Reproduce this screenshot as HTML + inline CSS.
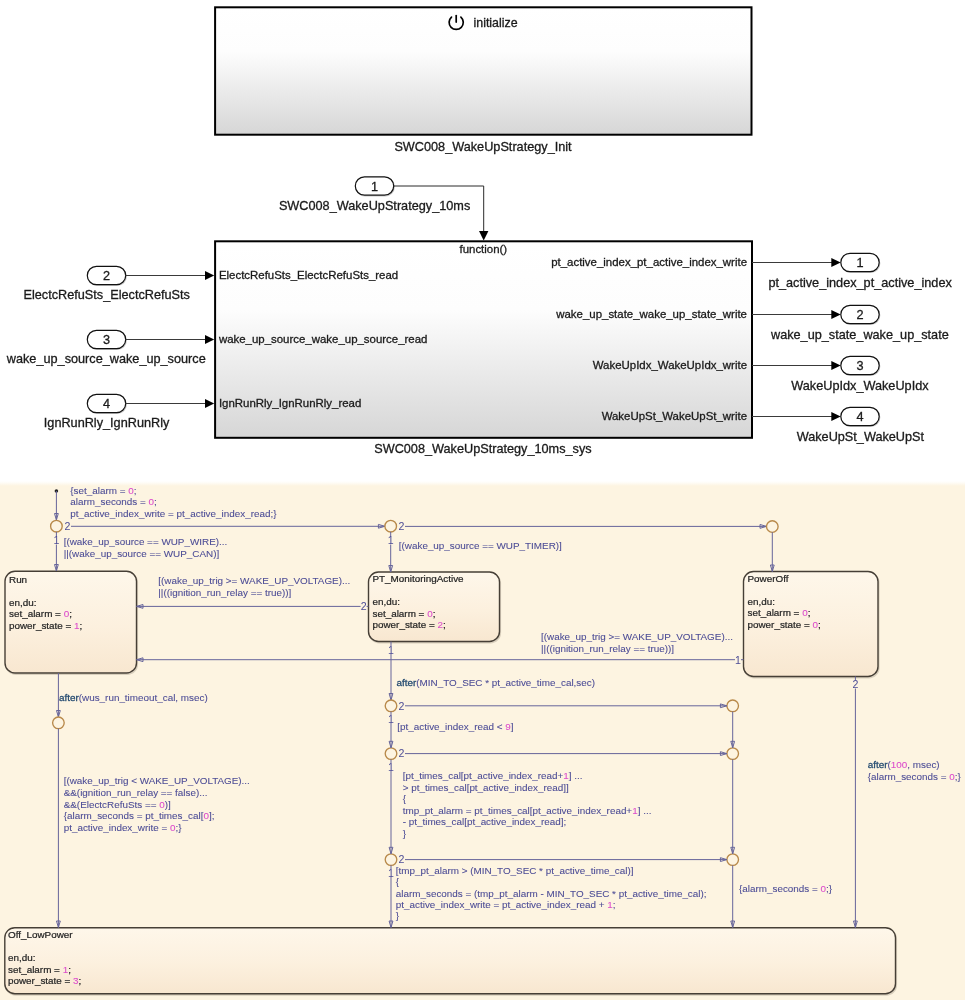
<!DOCTYPE html>
<html><head><meta charset="utf-8"><style>
html,body{margin:0;padding:0;background:#fff;width:965px;height:1000px;overflow:hidden}
svg{display:block;font-family:"Liberation Sans", sans-serif;will-change:transform}
.ct tspan{stroke-width:0.08px}
</style></head><body>
<svg width="965" height="1000" viewBox="0 0 965 1000">
<defs>
<linearGradient id="gsub" x1="0" y1="0" x2="0" y2="1"><stop offset="0" stop-color="#ffffff"/><stop offset="0.35" stop-color="#fdfdfd"/><stop offset="1" stop-color="#d6d6d6"/></linearGradient>
<linearGradient id="gstate" x1="0" y1="0" x2="0" y2="1"><stop offset="0" stop-color="#fef7ea"/><stop offset="0.55" stop-color="#fcf0de"/><stop offset="1" stop-color="#f8e7d0"/></linearGradient>
<marker id="arr" markerWidth="10" markerHeight="10" refX="10" refY="5" orient="auto" markerUnits="userSpaceOnUse"><path d="M0,0 L10,5 L0,10 z" fill="#000"/></marker>
</defs>
<rect x="215.1" y="7.3" width="536.4" height="127.4" fill="url(#gsub)" stroke="#000" stroke-width="2"/>
<path d="M451.5,17.1 A7.08,7.08 0 1 0 460.9,17.1" fill="none" stroke="#000" stroke-width="1.7" stroke-linecap="round"/>
<line x1="456.2" y1="15.5" x2="456.2" y2="22.1" stroke="#000" stroke-width="1.7" stroke-linecap="round"/>
<text x="473.5" y="26.5" font-size="12.4" fill="#1a1a1a" stroke="#1a1a1a" stroke-width="0.3" text-anchor="start" >initialize</text>
<text x="394.4" y="151" font-size="12.7" fill="#1a1a1a" stroke="#1a1a1a" stroke-width="0.3" text-anchor="start" >SWC008_WakeUpStrategy_Init</text>
<rect x="355.9" y="177.6" width="38.4" height="18.4" rx="9.2" ry="9.2" fill="none" stroke="#c8c8c8" stroke-width="1.2"/>
<rect x="355.3" y="176.8" width="38.4" height="18.4" rx="9.2" ry="9.2" fill="#fff" stroke="#111" stroke-width="1.2"/>
<text x="374.5" y="190.5" font-size="12.7" fill="#1a1a1a" stroke="#1a1a1a" stroke-width="0.3" text-anchor="middle" >1</text>
<text x="278.9" y="210.2" font-size="12.7" fill="#1a1a1a" stroke="#1a1a1a" stroke-width="0.3" text-anchor="start" >SWC008_WakeUpStrategy_10ms</text>
<polyline points="393.5,186 483.7,186 483.7,232" fill="none" stroke="#2a2a2a" stroke-width="1"/>
<path d="M479,231 L488.4,231 L483.7,240.5 z" fill="#000"/>
<rect x="215.1" y="241.3" width="536.9" height="196.5" fill="url(#gsub)" stroke="#000" stroke-width="2"/>
<text x="459.5" y="253.3" font-size="11.45" fill="#1a1a1a" stroke="#1a1a1a" stroke-width="0.3" text-anchor="start" >function()</text>
<rect x="87.9" y="267.1" width="38.4" height="18.4" rx="9.2" ry="9.2" fill="none" stroke="#c8c8c8" stroke-width="1.2"/>
<rect x="87.3" y="266.3" width="38.4" height="18.4" rx="9.2" ry="9.2" fill="#fff" stroke="#111" stroke-width="1.2"/>
<text x="106.5" y="280.0" font-size="12.7" fill="#1a1a1a" stroke="#1a1a1a" stroke-width="0.3" text-anchor="middle" >2</text>
<text x="23.5" y="299.3" font-size="12.7" fill="#1a1a1a" stroke="#1a1a1a" stroke-width="0.3" text-anchor="start" >ElectcRefuSts_ElectcRefuSts</text>
<line x1="125.5" y1="275.5" x2="206" y2="275.5" stroke="#3a3a3a" stroke-width="1"/>
<path d="M205,271.0 L214.2,275.5 L205,280.0 z" fill="#000"/>
<text x="218.9" y="278.8" font-size="11.45" fill="#1a1a1a" stroke="#1a1a1a" stroke-width="0.3" text-anchor="start" >ElectcRefuSts_ElectcRefuSts_read</text>
<rect x="87.9" y="331.1" width="38.4" height="18.4" rx="9.2" ry="9.2" fill="none" stroke="#c8c8c8" stroke-width="1.2"/>
<rect x="87.3" y="330.3" width="38.4" height="18.4" rx="9.2" ry="9.2" fill="#fff" stroke="#111" stroke-width="1.2"/>
<text x="106.5" y="344.0" font-size="12.7" fill="#1a1a1a" stroke="#1a1a1a" stroke-width="0.3" text-anchor="middle" >3</text>
<text x="6.8" y="363.3" font-size="12.7" fill="#1a1a1a" stroke="#1a1a1a" stroke-width="0.3" text-anchor="start" >wake_up_source_wake_up_source</text>
<line x1="125.5" y1="339.5" x2="206" y2="339.5" stroke="#3a3a3a" stroke-width="1"/>
<path d="M205,335.0 L214.2,339.5 L205,344.0 z" fill="#000"/>
<text x="218.9" y="342.8" font-size="11.45" fill="#1a1a1a" stroke="#1a1a1a" stroke-width="0.3" text-anchor="start" >wake_up_source_wake_up_source_read</text>
<rect x="87.9" y="395.1" width="38.4" height="18.4" rx="9.2" ry="9.2" fill="none" stroke="#c8c8c8" stroke-width="1.2"/>
<rect x="87.3" y="394.3" width="38.4" height="18.4" rx="9.2" ry="9.2" fill="#fff" stroke="#111" stroke-width="1.2"/>
<text x="106.5" y="408.0" font-size="12.7" fill="#1a1a1a" stroke="#1a1a1a" stroke-width="0.3" text-anchor="middle" >4</text>
<text x="43.8" y="427.3" font-size="12.7" fill="#1a1a1a" stroke="#1a1a1a" stroke-width="0.3" text-anchor="start" >IgnRunRly_IgnRunRly</text>
<line x1="125.5" y1="403.5" x2="206" y2="403.5" stroke="#3a3a3a" stroke-width="1"/>
<path d="M205,399.0 L214.2,403.5 L205,408.0 z" fill="#000"/>
<text x="218.9" y="406.8" font-size="11.45" fill="#1a1a1a" stroke="#1a1a1a" stroke-width="0.3" text-anchor="start" >IgnRunRly_IgnRunRly_read</text>
<rect x="841.4" y="254.1" width="38.4" height="18.4" rx="9.2" ry="9.2" fill="none" stroke="#c8c8c8" stroke-width="1.2"/>
<rect x="840.8" y="253.3" width="38.4" height="18.4" rx="9.2" ry="9.2" fill="#fff" stroke="#111" stroke-width="1.2"/>
<text x="860" y="267.0" font-size="12.7" fill="#1a1a1a" stroke="#1a1a1a" stroke-width="0.3" text-anchor="middle" >1</text>
<text x="768.4" y="287.0" font-size="12.7" fill="#1a1a1a" stroke="#1a1a1a" stroke-width="0.3" text-anchor="start" >pt_active_index_pt_active_index</text>
<line x1="752" y1="262.5" x2="832" y2="262.5" stroke="#3a3a3a" stroke-width="1"/>
<path d="M831.3,258.0 L840.7,262.5 L831.3,267.0 z" fill="#000"/>
<text x="747" y="266.1" font-size="11.45" fill="#1a1a1a" stroke="#1a1a1a" stroke-width="0.3" text-anchor="end" >pt_active_index_pt_active_index_write</text>
<rect x="841.4" y="306.1" width="38.4" height="18.4" rx="9.2" ry="9.2" fill="none" stroke="#c8c8c8" stroke-width="1.2"/>
<rect x="840.8" y="305.3" width="38.4" height="18.4" rx="9.2" ry="9.2" fill="#fff" stroke="#111" stroke-width="1.2"/>
<text x="860" y="319.0" font-size="12.7" fill="#1a1a1a" stroke="#1a1a1a" stroke-width="0.3" text-anchor="middle" >2</text>
<text x="771" y="339.0" font-size="12.7" fill="#1a1a1a" stroke="#1a1a1a" stroke-width="0.3" text-anchor="start" >wake_up_state_wake_up_state</text>
<line x1="752" y1="314.5" x2="832" y2="314.5" stroke="#3a3a3a" stroke-width="1"/>
<path d="M831.3,310.0 L840.7,314.5 L831.3,319.0 z" fill="#000"/>
<text x="747" y="318.1" font-size="11.45" fill="#1a1a1a" stroke="#1a1a1a" stroke-width="0.3" text-anchor="end" >wake_up_state_wake_up_state_write</text>
<rect x="841.4" y="357.1" width="38.4" height="18.4" rx="9.2" ry="9.2" fill="none" stroke="#c8c8c8" stroke-width="1.2"/>
<rect x="840.8" y="356.3" width="38.4" height="18.4" rx="9.2" ry="9.2" fill="#fff" stroke="#111" stroke-width="1.2"/>
<text x="860" y="370.0" font-size="12.7" fill="#1a1a1a" stroke="#1a1a1a" stroke-width="0.3" text-anchor="middle" >3</text>
<text x="791.3" y="390.0" font-size="12.7" fill="#1a1a1a" stroke="#1a1a1a" stroke-width="0.3" text-anchor="start" >WakeUpIdx_WakeUpIdx</text>
<line x1="752" y1="365.5" x2="832" y2="365.5" stroke="#3a3a3a" stroke-width="1"/>
<path d="M831.3,361.0 L840.7,365.5 L831.3,370.0 z" fill="#000"/>
<text x="747" y="369.1" font-size="11.45" fill="#1a1a1a" stroke="#1a1a1a" stroke-width="0.3" text-anchor="end" >WakeUpIdx_WakeUpIdx_write</text>
<rect x="841.4" y="408.1" width="38.4" height="18.4" rx="9.2" ry="9.2" fill="none" stroke="#c8c8c8" stroke-width="1.2"/>
<rect x="840.8" y="407.3" width="38.4" height="18.4" rx="9.2" ry="9.2" fill="#fff" stroke="#111" stroke-width="1.2"/>
<text x="860" y="421.0" font-size="12.7" fill="#1a1a1a" stroke="#1a1a1a" stroke-width="0.3" text-anchor="middle" >4</text>
<text x="796.7" y="441.0" font-size="12.7" fill="#1a1a1a" stroke="#1a1a1a" stroke-width="0.3" text-anchor="start" >WakeUpSt_WakeUpSt</text>
<line x1="752" y1="416.5" x2="832" y2="416.5" stroke="#3a3a3a" stroke-width="1"/>
<path d="M831.3,412.0 L840.7,416.5 L831.3,421.0 z" fill="#000"/>
<text x="747" y="420.1" font-size="11.45" fill="#1a1a1a" stroke="#1a1a1a" stroke-width="0.3" text-anchor="end" >WakeUpSt_WakeUpSt_write</text>
<text x="374.2" y="453.3" font-size="12.7" fill="#1a1a1a" stroke="#1a1a1a" stroke-width="0.3" text-anchor="start" >SWC008_WakeUpStrategy_10ms_sys</text>
<linearGradient id="gbg" x1="0" y1="0" x2="0" y2="1" gradientUnits="userSpaceOnUse" gradientTransform="translate(0,481) scale(1,7)"><stop offset="0" stop-color="#ffffff"/><stop offset="0.25" stop-color="#fefcf6"/><stop offset="0.7" stop-color="#fdf4e1"/><stop offset="1" stop-color="#fdf4e1"/></linearGradient><rect x="0" y="480" width="965" height="520" fill="#fdf4e1"/><rect x="0" y="480" width="965" height="1" fill="#fff"/><rect x="0" y="481" width="965" height="7" fill="url(#gbg)"/>
<rect x="5.8" y="572.5" width="131.5" height="101.70000000000005" rx="10" ry="10" fill="none" stroke="#d9cfbd" stroke-width="1.6"/>
<rect x="5" y="571.3" width="131.5" height="101.70000000000005" rx="10" ry="10" fill="url(#gstate)" stroke="#463f36" stroke-width="1.4"/>
<text x="9" y="582.5999999999999" font-size="9.9" fill="#4c4c96" class="ct"><tspan fill="#222" stroke="#222" style="stroke-width:0.22px">Run</tspan></text>
<text x="9" y="605.5999999999999" font-size="9.9" fill="#4c4c96" class="ct"><tspan fill="#262626" stroke="#262626" style="stroke-width:0.22px">en,du:</tspan></text>
<text x="9" y="617.0999999999999" font-size="9.9" fill="#4c4c96" class="ct"><tspan fill="#262626" stroke="#262626" style="stroke-width:0.22px">set_alarm = </tspan><tspan fill="#dc4ccc" stroke="#dc4ccc">0</tspan><tspan fill="#262626" stroke="#262626" style="stroke-width:0.22px">;</tspan></text>
<text x="9" y="628.5999999999999" font-size="9.9" fill="#4c4c96" class="ct"><tspan fill="#262626" stroke="#262626" style="stroke-width:0.22px">power_state = </tspan><tspan fill="#dc4ccc" stroke="#dc4ccc">1</tspan><tspan fill="#262626" stroke="#262626" style="stroke-width:0.22px">;</tspan></text>
<rect x="369.3" y="573.2" width="131.0" height="69.5" rx="10" ry="10" fill="none" stroke="#d9cfbd" stroke-width="1.6"/>
<rect x="368.5" y="572" width="131.0" height="69.5" rx="10" ry="10" fill="url(#gstate)" stroke="#463f36" stroke-width="1.4"/>
<text x="372.5" y="582.4" font-size="9.9" fill="#4c4c96" class="ct"><tspan fill="#222" stroke="#222" style="stroke-width:0.22px">PT_MonitoringActive</tspan></text>
<text x="372.5" y="605.4" font-size="9.9" fill="#4c4c96" class="ct"><tspan fill="#262626" stroke="#262626" style="stroke-width:0.22px">en,du:</tspan></text>
<text x="372.5" y="616.9" font-size="9.9" fill="#4c4c96" class="ct"><tspan fill="#262626" stroke="#262626" style="stroke-width:0.22px">set_alarm = </tspan><tspan fill="#dc4ccc" stroke="#dc4ccc">0</tspan><tspan fill="#262626" stroke="#262626" style="stroke-width:0.22px">;</tspan></text>
<text x="372.5" y="628.4" font-size="9.9" fill="#4c4c96" class="ct"><tspan fill="#262626" stroke="#262626" style="stroke-width:0.22px">power_state = </tspan><tspan fill="#dc4ccc" stroke="#dc4ccc">2</tspan><tspan fill="#262626" stroke="#262626" style="stroke-width:0.22px">;</tspan></text>
<rect x="744.3" y="572.7" width="134.5" height="105.0" rx="10" ry="10" fill="none" stroke="#d9cfbd" stroke-width="1.6"/>
<rect x="743.5" y="571.5" width="134.5" height="105.0" rx="10" ry="10" fill="url(#gstate)" stroke="#463f36" stroke-width="1.4"/>
<text x="747.5" y="581.9" font-size="9.9" fill="#4c4c96" class="ct"><tspan fill="#222" stroke="#222" style="stroke-width:0.22px">PowerOff</tspan></text>
<text x="747.5" y="604.9" font-size="9.9" fill="#4c4c96" class="ct"><tspan fill="#262626" stroke="#262626" style="stroke-width:0.22px">en,du:</tspan></text>
<text x="747.5" y="616.4" font-size="9.9" fill="#4c4c96" class="ct"><tspan fill="#262626" stroke="#262626" style="stroke-width:0.22px">set_alarm = </tspan><tspan fill="#dc4ccc" stroke="#dc4ccc">0</tspan><tspan fill="#262626" stroke="#262626" style="stroke-width:0.22px">;</tspan></text>
<text x="747.5" y="627.9" font-size="9.9" fill="#4c4c96" class="ct"><tspan fill="#262626" stroke="#262626" style="stroke-width:0.22px">power_state = </tspan><tspan fill="#dc4ccc" stroke="#dc4ccc">0</tspan><tspan fill="#262626" stroke="#262626" style="stroke-width:0.22px">;</tspan></text>
<rect x="5.6" y="928.9000000000001" width="890.7" height="66.0" rx="10" ry="10" fill="none" stroke="#d9cfbd" stroke-width="1.6"/>
<rect x="4.8" y="927.7" width="890.7" height="66.0" rx="10" ry="10" fill="url(#gstate)" stroke="#463f36" stroke-width="1.4"/>
<text x="8.0" y="938.1" font-size="9.9" fill="#4c4c96" class="ct"><tspan fill="#222" stroke="#222" style="stroke-width:0.22px">Off_LowPower</tspan></text>
<text x="8.0" y="961.1" font-size="9.9" fill="#4c4c96" class="ct"><tspan fill="#262626" stroke="#262626" style="stroke-width:0.22px">en,du:</tspan></text>
<text x="8.0" y="972.6" font-size="9.9" fill="#4c4c96" class="ct"><tspan fill="#262626" stroke="#262626" style="stroke-width:0.22px">set_alarm = </tspan><tspan fill="#dc4ccc" stroke="#dc4ccc">1</tspan><tspan fill="#262626" stroke="#262626" style="stroke-width:0.22px">;</tspan></text>
<text x="8.0" y="984.1" font-size="9.9" fill="#4c4c96" class="ct"><tspan fill="#262626" stroke="#262626" style="stroke-width:0.22px">power_state = </tspan><tspan fill="#dc4ccc" stroke="#dc4ccc">3</tspan><tspan fill="#262626" stroke="#262626" style="stroke-width:0.22px">;</tspan></text>
<circle cx="56.4" cy="491" r="1.8" fill="#222"/>
<line x1="56.4" y1="491" x2="56.4" y2="520" stroke="#66649a" stroke-width="1"/>
<path d="M54.5,513.5 L58.3,513.5 L56.4,520 z" fill="none" stroke="#66649a" stroke-width="1"/>
<circle cx="56.4" cy="526.2" r="5.8" fill="none" stroke="#b8894a" stroke-width="1.35"/>
<text x="70.3" y="494.0" font-size="9.9" fill="#4c4c96" class="ct"><tspan fill="#4c4c96" stroke="#4c4c96">{set_alarm = </tspan><tspan fill="#dc4ccc" stroke="#dc4ccc">0</tspan><tspan fill="#4c4c96" stroke="#4c4c96">;</tspan></text>
<text x="70.3" y="505.4" font-size="9.9" fill="#4c4c96" class="ct"><tspan fill="#4c4c96" stroke="#4c4c96">alarm_seconds = </tspan><tspan fill="#dc4ccc" stroke="#dc4ccc">0</tspan><tspan fill="#4c4c96" stroke="#4c4c96">;</tspan></text>
<text x="70.3" y="516.8" font-size="9.9" fill="#4c4c96" class="ct"><tspan fill="#4c4c96" stroke="#4c4c96">pt_active_index_write = pt_active_index_read;}</tspan></text>
<line x1="71" y1="526.3" x2="384.9" y2="526.3" stroke="#66649a" stroke-width="1"/>
<path d="M378.4,524.4 L378.4,528.1999999999999 L384.9,526.3 z" fill="none" stroke="#66649a" stroke-width="1"/>
<rect x="64.5" y="522.3" width="6" height="8" fill="#fdf4e1"/>
<text x="67.5" y="530.0999999999999" font-size="10.6" fill="#4c4c96" text-anchor="middle">2</text>
<circle cx="390.7" cy="526.2" r="5.8" fill="none" stroke="#b8894a" stroke-width="1.35"/>
<line x1="405" y1="526.4" x2="766.5" y2="526.4" stroke="#66649a" stroke-width="1"/>
<path d="M760.0,524.5 L760.0,528.3 L766.5,526.4 z" fill="none" stroke="#66649a" stroke-width="1"/>
<rect x="398.5" y="522.4" width="6" height="8" fill="#fdf4e1"/>
<text x="401.5" y="530.1999999999999" font-size="10.6" fill="#4c4c96" text-anchor="middle">2</text>
<circle cx="772.3" cy="526.5" r="5.8" fill="none" stroke="#b8894a" stroke-width="1.35"/>
<line x1="772.3" y1="532.3" x2="772.3" y2="571.5" stroke="#66649a" stroke-width="1"/>
<path d="M770.4,565.0 L774.1999999999999,565.0 L772.3,571.5 z" fill="none" stroke="#66649a" stroke-width="1"/>
<line x1="56.4" y1="531.8" x2="56.4" y2="571" stroke="#66649a" stroke-width="1"/>
<path d="M54.5,564.5 L58.3,564.5 L56.4,571 z" fill="none" stroke="#66649a" stroke-width="1"/>
<rect x="53.4" y="536.5" width="6" height="8" fill="#fdf4e1"/>
<text x="56.4" y="544.3" font-size="10.6" fill="#4c4c96" text-anchor="middle">1</text>
<text x="63.7" y="545.3" font-size="9.9" fill="#4c4c96" class="ct"><tspan fill="#4c4c96" stroke="#4c4c96">[(wake_up_source == WUP_WIRE)...</tspan></text>
<text x="63.7" y="556.9" font-size="9.9" fill="#4c4c96" class="ct"><tspan fill="#4c4c96" stroke="#4c4c96">||(wake_up_source == WUP_CAN)]</tspan></text>
<line x1="390.7" y1="531.8" x2="390.7" y2="572" stroke="#66649a" stroke-width="1"/>
<path d="M388.8,565.5 L392.59999999999997,565.5 L390.7,572 z" fill="none" stroke="#66649a" stroke-width="1"/>
<rect x="387.7" y="536.5" width="6" height="8" fill="#fdf4e1"/>
<text x="390.7" y="544.3" font-size="10.6" fill="#4c4c96" text-anchor="middle">1</text>
<text x="398.8" y="548.7" font-size="9.9" fill="#4c4c96" class="ct"><tspan fill="#4c4c96" stroke="#4c4c96">[(wake_up_source == WUP_TIMER)]</tspan></text>
<line x1="368.5" y1="606.4" x2="136.5" y2="606.4" stroke="#66649a" stroke-width="1"/>
<path d="M143.0,604.5 L143.0,608.3 L136.5,606.4 z" fill="none" stroke="#66649a" stroke-width="1"/>
<rect x="360.6" y="602.4" width="6" height="8" fill="#fdf4e1"/>
<text x="363.6" y="610.1999999999999" font-size="10.6" fill="#4c4c96" text-anchor="middle">2</text>
<text x="158.3" y="584.0" font-size="9.9" fill="#4c4c96" class="ct"><tspan fill="#4c4c96" stroke="#4c4c96">[(wake_up_trig &gt;= WAKE_UP_VOLTAGE)...</tspan></text>
<text x="158.3" y="596.0" font-size="9.9" fill="#4c4c96" class="ct"><tspan fill="#4c4c96" stroke="#4c4c96">||((ignition_run_relay == true))]</tspan></text>
<line x1="743.5" y1="659.7" x2="136.5" y2="659.7" stroke="#66649a" stroke-width="1"/>
<path d="M143.0,657.8000000000001 L143.0,661.6 L136.5,659.7 z" fill="none" stroke="#66649a" stroke-width="1"/>
<rect x="735" y="655.7" width="6" height="8" fill="#fdf4e1"/>
<text x="738" y="663.5" font-size="10.6" fill="#4c4c96" text-anchor="middle">1</text>
<text x="541" y="639.6" font-size="9.9" fill="#4c4c96" class="ct"><tspan fill="#4c4c96" stroke="#4c4c96">[(wake_up_trig &gt;= WAKE_UP_VOLTAGE)...</tspan></text>
<text x="541" y="651.6" font-size="9.9" fill="#4c4c96" class="ct"><tspan fill="#4c4c96" stroke="#4c4c96">||((ignition_run_relay == true))]</tspan></text>
<line x1="58.4" y1="673" x2="58.4" y2="717" stroke="#66649a" stroke-width="1"/>
<path d="M56.5,710.5 L60.3,710.5 L58.4,717 z" fill="none" stroke="#66649a" stroke-width="1"/>
<text x="59" y="701.0" font-size="9.9" fill="#4c4c96" class="ct"><tspan fill="#234a70" stroke="#234a70" style="stroke-width:0.28px">after</tspan><tspan fill="#4c4c96" stroke="#4c4c96">(wus_run_timeout_cal, msec)</tspan></text>
<circle cx="58.4" cy="722.8" r="5.8" fill="none" stroke="#b8894a" stroke-width="1.35"/>
<line x1="58.4" y1="728.6" x2="58.4" y2="927.5" stroke="#66649a" stroke-width="1"/>
<path d="M56.5,921.0 L60.3,921.0 L58.4,927.5 z" fill="none" stroke="#66649a" stroke-width="1"/>
<text x="63.7" y="784.3" font-size="9.9" fill="#4c4c96" class="ct"><tspan fill="#4c4c96" stroke="#4c4c96">[(wake_up_trig &lt; WAKE_UP_VOLTAGE)...</tspan></text>
<text x="63.7" y="795.9499999999999" font-size="9.9" fill="#4c4c96" class="ct"><tspan fill="#4c4c96" stroke="#4c4c96">&amp;&amp;(ignition_run_relay == false)...</tspan></text>
<text x="63.7" y="807.5999999999999" font-size="9.9" fill="#4c4c96" class="ct"><tspan fill="#4c4c96" stroke="#4c4c96">&amp;&amp;(ElectcRefuSts == </tspan><tspan fill="#dc4ccc" stroke="#dc4ccc">0</tspan><tspan fill="#4c4c96" stroke="#4c4c96">)]</tspan></text>
<text x="63.7" y="819.25" font-size="9.9" fill="#4c4c96" class="ct"><tspan fill="#4c4c96" stroke="#4c4c96">{alarm_seconds = pt_times_cal[</tspan><tspan fill="#dc4ccc" stroke="#dc4ccc">0</tspan><tspan fill="#4c4c96" stroke="#4c4c96">];</tspan></text>
<text x="63.7" y="830.9" font-size="9.9" fill="#4c4c96" class="ct"><tspan fill="#4c4c96" stroke="#4c4c96">pt_active_index_write = </tspan><tspan fill="#dc4ccc" stroke="#dc4ccc">0</tspan><tspan fill="#4c4c96" stroke="#4c4c96">;}</tspan></text>
<line x1="391" y1="641.5" x2="391" y2="700" stroke="#66649a" stroke-width="1"/>
<path d="M389.1,693.5 L392.9,693.5 L391,700 z" fill="none" stroke="#66649a" stroke-width="1"/>
<rect x="388" y="646" width="6" height="8" fill="#fdf4e1"/>
<text x="391" y="653.8" font-size="10.6" fill="#4c4c96" text-anchor="middle">1</text>
<text x="396.5" y="685.7" font-size="9.9" fill="#4c4c96" class="ct"><tspan fill="#234a70" stroke="#234a70" style="stroke-width:0.28px">after</tspan><tspan fill="#4c4c96" stroke="#4c4c96">(MIN_TO_SEC * pt_active_time_cal,sec)</tspan></text>
<circle cx="391" cy="705.8" r="5.8" fill="none" stroke="#b8894a" stroke-width="1.35"/>
<circle cx="732.7" cy="705.8" r="5.8" fill="none" stroke="#b8894a" stroke-width="1.35"/>
<line x1="405" y1="705.8" x2="726.9" y2="705.8" stroke="#66649a" stroke-width="1"/>
<path d="M720.4,703.9 L720.4,707.6999999999999 L726.9,705.8 z" fill="none" stroke="#66649a" stroke-width="1"/>
<rect x="398.4" y="701.8" width="6" height="8" fill="#fdf4e1"/>
<text x="401.4" y="709.5999999999999" font-size="10.6" fill="#4c4c96" text-anchor="middle">2</text>
<circle cx="391" cy="753.6" r="5.8" fill="none" stroke="#b8894a" stroke-width="1.35"/>
<circle cx="732.7" cy="753.6" r="5.8" fill="none" stroke="#b8894a" stroke-width="1.35"/>
<line x1="405" y1="753.6" x2="726.9" y2="753.6" stroke="#66649a" stroke-width="1"/>
<path d="M720.4,751.7 L720.4,755.5 L726.9,753.6 z" fill="none" stroke="#66649a" stroke-width="1"/>
<rect x="398.4" y="749.6" width="6" height="8" fill="#fdf4e1"/>
<text x="401.4" y="757.4" font-size="10.6" fill="#4c4c96" text-anchor="middle">2</text>
<circle cx="391" cy="859.6" r="5.8" fill="none" stroke="#b8894a" stroke-width="1.35"/>
<circle cx="732.7" cy="859.6" r="5.8" fill="none" stroke="#b8894a" stroke-width="1.35"/>
<line x1="405" y1="859.6" x2="726.9" y2="859.6" stroke="#66649a" stroke-width="1"/>
<path d="M720.4,857.7 L720.4,861.5 L726.9,859.6 z" fill="none" stroke="#66649a" stroke-width="1"/>
<rect x="398.4" y="855.6" width="6" height="8" fill="#fdf4e1"/>
<text x="401.4" y="863.4" font-size="10.6" fill="#4c4c96" text-anchor="middle">2</text>
<line x1="391" y1="711.6" x2="391" y2="747.8" stroke="#66649a" stroke-width="1"/>
<path d="M389.1,741.3 L392.9,741.3 L391,747.8 z" fill="none" stroke="#66649a" stroke-width="1"/>
<rect x="388" y="715" width="6" height="8" fill="#fdf4e1"/>
<text x="391" y="722.8" font-size="10.6" fill="#4c4c96" text-anchor="middle">1</text>
<text x="397.3" y="729.6" font-size="9.9" fill="#4c4c96" class="ct"><tspan fill="#4c4c96" stroke="#4c4c96">[pt_active_index_read &lt; </tspan><tspan fill="#dc4ccc" stroke="#dc4ccc">9</tspan><tspan fill="#4c4c96" stroke="#4c4c96">]</tspan></text>
<line x1="391" y1="759.4" x2="391" y2="853.8" stroke="#66649a" stroke-width="1"/>
<path d="M389.1,847.3 L392.9,847.3 L391,853.8 z" fill="none" stroke="#66649a" stroke-width="1"/>
<rect x="388" y="763" width="6" height="8" fill="#fdf4e1"/>
<text x="391" y="770.8" font-size="10.6" fill="#4c4c96" text-anchor="middle">1</text>
<text x="402.7" y="779.0" font-size="9.9" fill="#4c4c96" class="ct"><tspan fill="#4c4c96" stroke="#4c4c96">[pt_times_cal[pt_active_index_read+</tspan><tspan fill="#dc4ccc" stroke="#dc4ccc">1</tspan><tspan fill="#4c4c96" stroke="#4c4c96">] ...</tspan></text>
<text x="402.7" y="790.6" font-size="9.9" fill="#4c4c96" class="ct"><tspan fill="#4c4c96" stroke="#4c4c96">&gt; pt_times_cal[pt_active_index_read]]</tspan></text>
<text x="402.7" y="802.2" font-size="9.9" fill="#4c4c96" class="ct"><tspan fill="#4c4c96" stroke="#4c4c96">{</tspan></text>
<text x="402.7" y="813.8" font-size="9.9" fill="#4c4c96" class="ct"><tspan fill="#4c4c96" stroke="#4c4c96">tmp_pt_alarm = pt_times_cal[pt_active_index_read+</tspan><tspan fill="#dc4ccc" stroke="#dc4ccc">1</tspan><tspan fill="#4c4c96" stroke="#4c4c96">] ...</tspan></text>
<text x="402.7" y="825.4" font-size="9.9" fill="#4c4c96" class="ct"><tspan fill="#4c4c96" stroke="#4c4c96">- pt_times_cal[pt_active_index_read];</tspan></text>
<text x="402.7" y="837.0" font-size="9.9" fill="#4c4c96" class="ct"><tspan fill="#4c4c96" stroke="#4c4c96">}</tspan></text>
<line x1="391" y1="865.4" x2="391" y2="927.5" stroke="#66649a" stroke-width="1"/>
<path d="M389.1,921.0 L392.9,921.0 L391,927.5 z" fill="none" stroke="#66649a" stroke-width="1"/>
<rect x="388" y="869" width="6" height="8" fill="#fdf4e1"/>
<text x="391" y="876.8" font-size="10.6" fill="#4c4c96" text-anchor="middle">1</text>
<text x="395.8" y="873.9" font-size="9.9" fill="#4c4c96" class="ct"><tspan fill="#4c4c96" stroke="#4c4c96">[tmp_pt_alarm &gt; (MIN_TO_SEC * pt_active_time_cal)]</tspan></text>
<text x="395.8" y="885.1999999999999" font-size="9.9" fill="#4c4c96" class="ct"><tspan fill="#4c4c96" stroke="#4c4c96">{</tspan></text>
<text x="395.8" y="896.5" font-size="9.9" fill="#4c4c96" class="ct"><tspan fill="#4c4c96" stroke="#4c4c96">alarm_seconds = (tmp_pt_alarm - MIN_TO_SEC * pt_active_time_cal);</tspan></text>
<text x="395.8" y="907.8" font-size="9.9" fill="#4c4c96" class="ct"><tspan fill="#4c4c96" stroke="#4c4c96">pt_active_index_write = pt_active_index_read + </tspan><tspan fill="#dc4ccc" stroke="#dc4ccc">1</tspan><tspan fill="#4c4c96" stroke="#4c4c96">;</tspan></text>
<text x="395.8" y="919.1" font-size="9.9" fill="#4c4c96" class="ct"><tspan fill="#4c4c96" stroke="#4c4c96">}</tspan></text>
<line x1="732.7" y1="711.6" x2="732.7" y2="747.8" stroke="#66649a" stroke-width="1"/>
<path d="M730.8000000000001,741.3 L734.6,741.3 L732.7,747.8 z" fill="none" stroke="#66649a" stroke-width="1"/>
<line x1="732.7" y1="759.4" x2="732.7" y2="853.8" stroke="#66649a" stroke-width="1"/>
<path d="M730.8000000000001,847.3 L734.6,847.3 L732.7,853.8 z" fill="none" stroke="#66649a" stroke-width="1"/>
<line x1="732.7" y1="865.4" x2="732.7" y2="927.5" stroke="#66649a" stroke-width="1"/>
<path d="M730.8000000000001,921.0 L734.6,921.0 L732.7,927.5 z" fill="none" stroke="#66649a" stroke-width="1"/>
<text x="739" y="891.9" font-size="9.9" fill="#4c4c96" class="ct"><tspan fill="#4c4c96" stroke="#4c4c96">{alarm_seconds = </tspan><tspan fill="#dc4ccc" stroke="#dc4ccc">0</tspan><tspan fill="#4c4c96" stroke="#4c4c96">;}</tspan></text>
<line x1="855.4" y1="676.5" x2="855.4" y2="927.5" stroke="#66649a" stroke-width="1"/>
<path d="M853.5,921.0 L857.3,921.0 L855.4,927.5 z" fill="none" stroke="#66649a" stroke-width="1"/>
<rect x="852.4" y="680.5" width="6" height="8" fill="#fdf4e1"/>
<text x="855.4" y="688.3" font-size="10.6" fill="#4c4c96" text-anchor="middle">2</text>
<text x="867.7" y="768.4" font-size="9.9" fill="#4c4c96" class="ct"><tspan fill="#234a70" stroke="#234a70" style="stroke-width:0.28px">after</tspan><tspan fill="#4c4c96" stroke="#4c4c96">(</tspan><tspan fill="#dc4ccc" stroke="#dc4ccc">100</tspan><tspan fill="#4c4c96" stroke="#4c4c96">, msec)</tspan></text>
<text x="867.7" y="780.3" font-size="9.9" fill="#4c4c96" class="ct"><tspan fill="#4c4c96" stroke="#4c4c96">{alarm_seconds = </tspan><tspan fill="#dc4ccc" stroke="#dc4ccc">0</tspan><tspan fill="#4c4c96" stroke="#4c4c96">;}</tspan></text>
</svg>
</body></html>
